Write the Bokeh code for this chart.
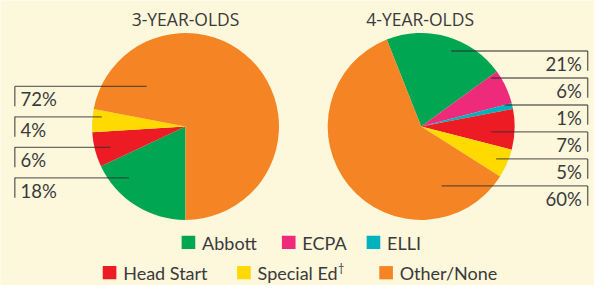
import math
from bokeh.plotting import figure
from bokeh.models import Range1d, ColumnDataSource
from bokeh.core.properties import value
from bokeh.embed import file_html
from bokeh.resources import INLINE

# ---------------- data ----------------
titles = ["3-YEAR-OLDS", "4-YEAR-OLDS"]
three_cats = ["Abbott", "Head Start", "Special Ed", "Other/None"]
three_vals = [18, 6, 4, 72]
four_cats = ["Abbott", "ECPA", "ELLI", "Head Start", "Special Ed", "Other/None"]
four_vals = [21, 6, 1, 7, 5, 60]
legend_cats = ["Abbott", "ECPA", "ELLI", "Head Start", "Special Ed", "Other/None"]

# ---------------- style ----------------
palette = {
    "Abbott": "#00A651",
    "ECPA": "#EE2A7B",
    "ELLI": "#00B2BF",
    "Head Start": "#ED1C24",
    "Special Ed": "#FFDA00",
    "Other/None": "#F58524",
}
BG = "#FDF7DC"
TXT = "#3a3a3a"
FONT = "Lato"
TFONT = "Open Sans"
LBL = "18.5px"
W, H = 594, 285
RW, RH = 610, 301   # layout coordinates (reference space)


def X(px):
    return px


def Y(py):
    return RH - py


p = figure(width=W, height=H, output_backend="svg", toolbar_location=None,
           x_range=Range1d(0, RW), y_range=Range1d(0, RH),
           min_border=0)
p.background_fill_color = BG
p.border_fill_color = BG
p.outline_line_color = None
p.xaxis.visible = False
p.yaxis.visible = False
p.xgrid.visible = False
p.ygrid.visible = False


def pie(cx, cy, r, cats, vals, start_deg):
    total = float(sum(vals))
    theta = start_deg
    starts, ends, cols = [], [], []
    for c, v in zip(cats, vals):
        t1 = theta
        t2 = theta + 360.0 * v / total
        starts.append(math.radians(90 - t2))
        ends.append(math.radians(90 - t1))
        cols.append(palette[c])
        theta = t2
    src = ColumnDataSource(dict(x=[X(cx)] * len(vals), y=[Y(cy)] * len(vals),
                                s=starts, e=ends, c=cols))
    p.wedge(x="x", y="y", radius=r, start_angle="s", end_angle="e",
            direction="anticlock", fill_color="c", line_color=None, source=src)


pie(190, 133, 96, three_cats, three_vals, 180.0)
pie(432, 133, 96, four_cats, four_vals, -21.6)

# titles
p.text(x=[X(190), X(431)], y=[Y(19.5), Y(19.5)], text=titles,
       text_font=value(TFONT), text_font_size="17.5px", text_color=TXT,
       text_align="center", text_baseline="middle")

LINE_C = "#2e2e2e"

# left labels (top to bottom = reversed slice order)
left_labels = [f"{v}%" for v in reversed(three_vals)]
left_inner = [150, 104, 113, 132]
ly0, lstep, lx = 90.7, 32.2, 14.7
ys = [ly0 + i * lstep for i in range(len(left_labels))]
n = len(ys)
p.segment(x0=[X(lx)] * n, y0=[Y(y) for y in ys], x1=[X(e) for e in left_inner],
          y1=[Y(y) for y in ys], line_color=LINE_C, line_alpha=0.7, line_width=1.4)
p.segment(x0=[X(lx)] * n, y0=[Y(y) for y in ys], x1=[X(lx)] * n,
          y1=[Y(y + 21) for y in ys], line_color=LINE_C, line_alpha=0.7, line_width=1.4)
p.text(x=[X(20.5)] * n, y=[Y(y + 13.5) for y in ys], text=left_labels,
       text_font=value(FONT), text_font_size=LBL, text_color=TXT,
       text_align="left", text_baseline="middle")

# right labels (top to bottom = slice order)
right_labels = [f"{v}%" for v in four_vals]
right_inner = [463, 504, 518, 504, 509, 453]
ry0, rstep, rx = 53.3, 28.5, 603
ys = [ry0 + i * rstep for i in range(len(right_labels))]
n = len(ys)
p.segment(x0=[X(rx)] * n, y0=[Y(y) for y in ys], x1=[X(e) for e in right_inner],
          y1=[Y(y) for y in ys], line_color=LINE_C, line_alpha=0.7, line_width=1.4)
p.segment(x0=[X(rx)] * n, y0=[Y(y) for y in ys], x1=[X(rx)] * n,
          y1=[Y(y + 21) for y in ys], line_color=LINE_C, line_alpha=0.7, line_width=1.4)
p.text(x=[X(597)] * n, y=[Y(y + 13.5) for y in ys], text=right_labels,
       text_font=value(FONT), text_font_size=LBL, text_color=TXT,
       text_align="right", text_baseline="middle")

# legend
leg_left = [186, 289, 376, 105, 243, 389]
leg_y = [255.5, 255.5, 255.5, 287.5, 287.5, 287.5]
SQ = 14
p.rect(x=[X(l + SQ / 2) for l in leg_left], y=[Y(y) for y in leg_y],
       width=SQ, height=SQ, fill_color=[palette[c] for c in legend_cats],
       line_color=None)
p.text(x=[X(l + 21) for l in leg_left], y=[Y(y + 0.5) for y in leg_y],
       text=legend_cats, text_font=value(FONT), text_font_size="18px",
       text_color=TXT, text_align="left", text_baseline="middle")
# superscript dagger after "Special Ed"
p.text(x=[X(346.5)], y=[Y(282)], text=["\u2020"], text_font=value(FONT),
       text_font_size="11px", text_color=TXT, text_align="left",
       text_baseline="middle")

open("out.html", "w").write(file_html(p, INLINE))
